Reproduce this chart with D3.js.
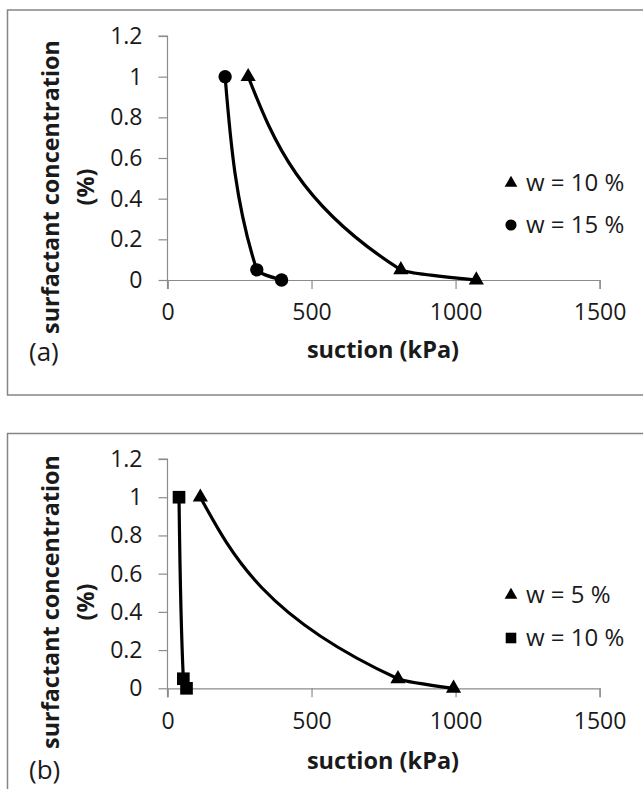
<!DOCTYPE html>
<html>
<head>
<meta charset="utf-8">
<script src="https://cdn.jsdelivr.net/npm/d3@7"></script>
<style>
  body { margin: 0; background: #fff; }
  text { font-family: "Open Sans", sans-serif; fill: #1a1a1a; }
</style>
</head>
<body>
<svg id="chart"></svg>
<script>
const width = 643, height = 789

// panel (a)
const aSeries1Name = 'w = 10 %'
const aSeries1X = [280, 810, 1072]
const aSeries1Y = [1, 0.05, 0]
const aSeries2Name = 'w = 15 %'
const aSeries2X = [200, 310, 396]
const aSeries2Y = [1, 0.05, 0]

// panel (b)
const bSeries1Name = 'w = 5 %'
const bSeries1X = [114, 800, 993]
const bSeries1Y = [1, 0.05, 0]
const bSeries2Name = 'w = 10 %'
const bSeries2X = [40, 55, 66]
const bSeries2Y = [1, 0.05, 0]

const xTicks = [0, 500, 1000, 1500]
const yTicks = [0, 0.2, 0.4, 0.6, 0.8, 1, 1.2]

const svg = d3.select('#chart').attr('width', width).attr('height', height)

const zip = (xs, ys) => xs.map((x, i) => ({x: x, y: ys[i]}))

const drawPanel = (p) => {
  const g = svg.append('g')

  g.append('rect')
    .attr('x', 7.5).attr('y', p.boxTop)
    .attr('width', 640).attr('height', p.boxH)
    .attr('fill', 'none').attr('stroke', '#858585').attr('stroke-width', 1.5)

  const xScale = d3.scaleLinear().domain([0, 1500]).range([167.5, 599.6])
  const yScale = d3.scaleLinear().domain([0, 1.2]).range([p.y0, p.y12])

  const xAxis = d3.axisBottom(xScale).tickValues(xTicks).tickSize(9).tickPadding(15).tickFormat(d3.format('d'))
  const yAxis = d3.axisLeft(yScale).tickValues(yTicks).tickSize(9).tickPadding(16).tickFormat(d => d === 0 || d === 1 ? d : d3.format('.1f')(d))

  const xg = g.append('g').attr('transform', `translate(0,${p.y0})`).call(xAxis)
  const yg = g.append('g').attr('transform', `translate(167.5,0)`).call(yAxis)
  for (const ax of [xg, yg]) {
    ax.select('.domain').attr('stroke', '#8c8c8c').attr('stroke-width', 1.2)
    ax.selectAll('.tick line').attr('stroke', '#8c8c8c').attr('stroke-width', 1.2)
    ax.selectAll('.tick text').attr('font-size', 23).attr('fill', '#1a1a1a')
      .style('font-family', '"Open Sans", sans-serif')
  }
  yg.select('.domain').attr('d', `M-9,${p.y12}H0V${p.y0 + 9}`)

  // smooth line through the points (x as a function of y)
  const line = d3.line().x(d => xScale(d.x)).y(d => yScale(d.y)).curve(d3.curveMonotoneY)

  const sets = [
    {data: zip(p.s1x, p.s1y), shape: d3.symbolTriangle, size: 100, name: p.s1name},
    {data: zip(p.s2x, p.s2y), shape: p.s2shape, size: p.s2size, name: p.s2name}
  ]

  sets.forEach((s, i) => {
    g.append('path').datum(s.data)
      .attr('d', line)
      .attr('fill', 'none').attr('stroke', '#000').attr('stroke-width', 3.2)
    g.selectAll(null).data(s.data).enter().append('path')
      .attr('transform', d => `translate(${xScale(d.x)},${yScale(d.y)})`)
      .attr('d', d3.symbol().type(s.shape).size(s.size))
      .attr('fill', '#000')

    const ly = p.legY[i]
    g.append('path')
      .attr('transform', `translate(511,${ly})`)
      .attr('d', d3.symbol().type(s.shape).size(s.size * 0.7))
      .attr('fill', '#000')
    g.append('text')
      .attr('x', 526).attr('y', ly).attr('dy', '0.35em')
      .attr('font-size', 24)
      .text(s.name)
  })

  g.append('text')
    .attr('x', 383).attr('y', p.titleY).attr('dy', '0.35em')
    .attr('text-anchor', 'middle').attr('font-size', 23.5).attr('font-weight', 'bold')
    .text('suction (kPa)')

  g.append('text')
    .attr('transform', `translate(51,${p.ytitleY}) rotate(-90)`)
    .attr('dy', '0.35em')
    .attr('text-anchor', 'middle').attr('font-size', 23.4).attr('font-weight', 'bold')
    .text('surfactant concentration')
  g.append('text')
    .attr('transform', `translate(86,${p.ytitleY}) rotate(-90)`)
    .attr('dy', '0.35em')
    .attr('text-anchor', 'middle').attr('font-size', 23.4).attr('font-weight', 'bold')
    .text('(%)')

  g.append('text')
    .attr('x', 29).attr('y', p.labelY).attr('dy', '0.35em')
    .attr('font-size', 26)
    .text(p.label)
}

drawPanel({
  boxTop: 10, boxH: 385, y0: 280, y12: 36,
  s1x: aSeries1X, s1y: aSeries1Y, s1name: aSeries1Name,
  s2x: aSeries2X, s2y: aSeries2Y, s2name: aSeries2Name,
  s2shape: d3.symbolCircle, s2size: 140,
  legY: [183, 225], titleY: 350, ytitleY: 187, labelY: 352, label: '(a)'
})

drawPanel({
  boxTop: 433.5, boxH: 400, y0: 688.3, y12: 459,
  s1x: bSeries1X, s1y: bSeries1Y, s1name: bSeries1Name,
  s2x: bSeries2X, s2y: bSeries2Y, s2name: bSeries2Name,
  s2shape: d3.symbolSquare, s2size: 160,
  legY: [595, 638], titleY: 761, ytitleY: 602, labelY: 770, label: '(b)'
})
</script>
</body>
</html>
